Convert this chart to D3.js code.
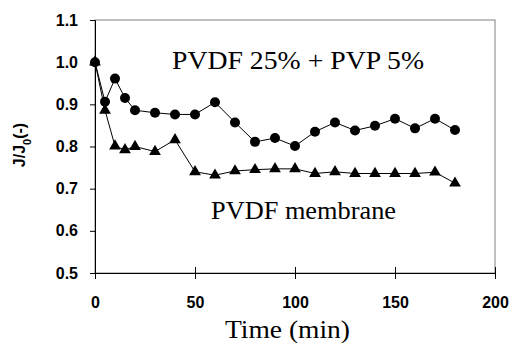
<!DOCTYPE html>
<html>
<head>
<meta charset="utf-8">
<script src="https://cdn.jsdelivr.net/npm/d3@7"></script>
<style>
  body { margin: 0; background: #fff; }
</style>
</head>
<body>
<svg id="chart" width="511" height="343"></svg>
<script>
const times = [0, 5, 10, 15, 20, 30, 40, 50, 60, 70, 80, 90, 100, 110, 120, 130, 140, 150, 160, 170, 180];
const pvpSeries = [1.0, 0.906, 0.961, 0.915, 0.886, 0.880, 0.876, 0.876, 0.905, 0.857, 0.811, 0.820, 0.801, 0.835, 0.857, 0.838, 0.849, 0.866, 0.843, 0.866, 0.839];
const pvdfSeries = [1.0, 0.886, 0.801, 0.792, 0.800, 0.788, 0.816, 0.740, 0.732, 0.742, 0.745, 0.747, 0.747, 0.736, 0.740, 0.736, 0.736, 0.736, 0.736, 0.739, 0.713];
const xTicks = [0, 50, 100, 150, 200];
const yTicks = [0.5, 0.6, 0.7, 0.8, 0.9, 1.0, 1.1];

const margin = { top: 20, right: 16, bottom: 70, left: 95 };
const width = 511 - margin.left - margin.right;
const height = 343 - margin.top - margin.bottom;

const sans = 'Liberation Sans, Arial, sans-serif';
const serif = 'Liberation Serif, Times New Roman, serif';

const svg = d3.select('#chart');
const g = svg.append('g')
    .attr('transform', `translate(${margin.left},${margin.top})`);

const x = d3.scaleLinear().domain([0, 200]).range([0, width]);
const y = d3.scaleLinear().domain([0.5, 1.1]).range([height, 0]);

// plot area border (grey top/right)
g.append('rect')
    .attr('x', 0).attr('y', 0)
    .attr('width', width).attr('height', height)
    .attr('fill', 'none')
    .attr('stroke', '#808080')
    .attr('stroke-width', 1);

// y axis
const yAxis = g.append('g')
    .call(d3.axisLeft(y).tickValues(yTicks).tickFormat(d3.format('.1f')).tickSize(5).tickPadding(12));
yAxis.attr('font-family', sans).attr('font-size', 16).attr('font-weight', 'bold');
yAxis.select('.domain').attr('stroke', '#000');
yAxis.selectAll('text').attr('fill', '#000');

// x axis with crossing ticks
const xAxis = g.append('g')
    .attr('transform', `translate(0,${height})`)
    .call(d3.axisBottom(x).tickValues(xTicks).tickSize(6).tickPadding(18));
xAxis.attr('font-family', sans).attr('font-size', 16).attr('font-weight', 'bold');
xAxis.selectAll('.tick line').attr('y1', -6).attr('y2', 6);
xAxis.select('.domain').attr('stroke', '#000');
xAxis.selectAll('text').attr('fill', '#000');

const line = d3.line()
    .x((d, i) => x(times[i]))
    .y(d => y(d));

// PVDF 25% + PVP 5%
g.append('path')
    .datum(pvpSeries)
    .attr('d', line)
    .attr('fill', 'none')
    .attr('stroke', '#000')
    .attr('stroke-width', 1);

g.selectAll('circle.pvp')
    .data(pvpSeries)
    .enter()
    .append('circle')
        .attr('class', 'pvp')
        .attr('cx', (d, i) => x(times[i]))
        .attr('cy', d => y(d))
        .attr('r', 5)
        .attr('fill', '#000');

// PVDF membrane
g.append('path')
    .datum(pvdfSeries)
    .attr('d', line)
    .attr('fill', 'none')
    .attr('stroke', '#000')
    .attr('stroke-width', 1);

const tri = d3.symbol().type(d3.symbolTriangle).size(60);
g.selectAll('path.pvdf')
    .data(pvdfSeries)
    .enter()
    .append('path')
        .attr('class', 'pvdf')
        .attr('d', tri)
        .attr('transform', (d, i) => `translate(${x(times[i])},${y(d)})`)
        .attr('fill', '#000');

// annotations
svg.append('text')
    .attr('x', 172).attr('y', 68.5)
    .attr('font-family', serif)
    .attr('font-size', 25)
    .attr('textLength', 252)
    .attr('lengthAdjust', 'spacingAndGlyphs')
    .attr('fill', '#000')
    .text('PVDF 25% + PVP 5%');

svg.append('text')
    .attr('x', 211).attr('y', 219)
    .attr('font-family', serif)
    .attr('font-size', 25)
    .attr('textLength', 185)
    .attr('lengthAdjust', 'spacingAndGlyphs')
    .attr('fill', '#000')
    .text('PVDF membrane');

svg.append('text')
    .attr('x', 225).attr('y', 338)
    .attr('font-family', serif)
    .attr('font-size', 25)
    .attr('textLength', 125)
    .attr('lengthAdjust', 'spacingAndGlyphs')
    .attr('fill', '#000')
    .text('Time (min)');

const yl = svg.append('text')
    .attr('transform', 'translate(25,145) rotate(-90)')
    .attr('text-anchor', 'middle')
    .attr('font-family', sans)
    .attr('font-weight', 'bold')
    .attr('font-size', 16)
    .attr('fill', '#000');
yl.append('tspan').text('J/J');
yl.append('tspan').attr('baseline-shift', 'sub').attr('font-size', 11).text('0');
yl.append('tspan').text('(-)');
</script>
</body>
</html>
